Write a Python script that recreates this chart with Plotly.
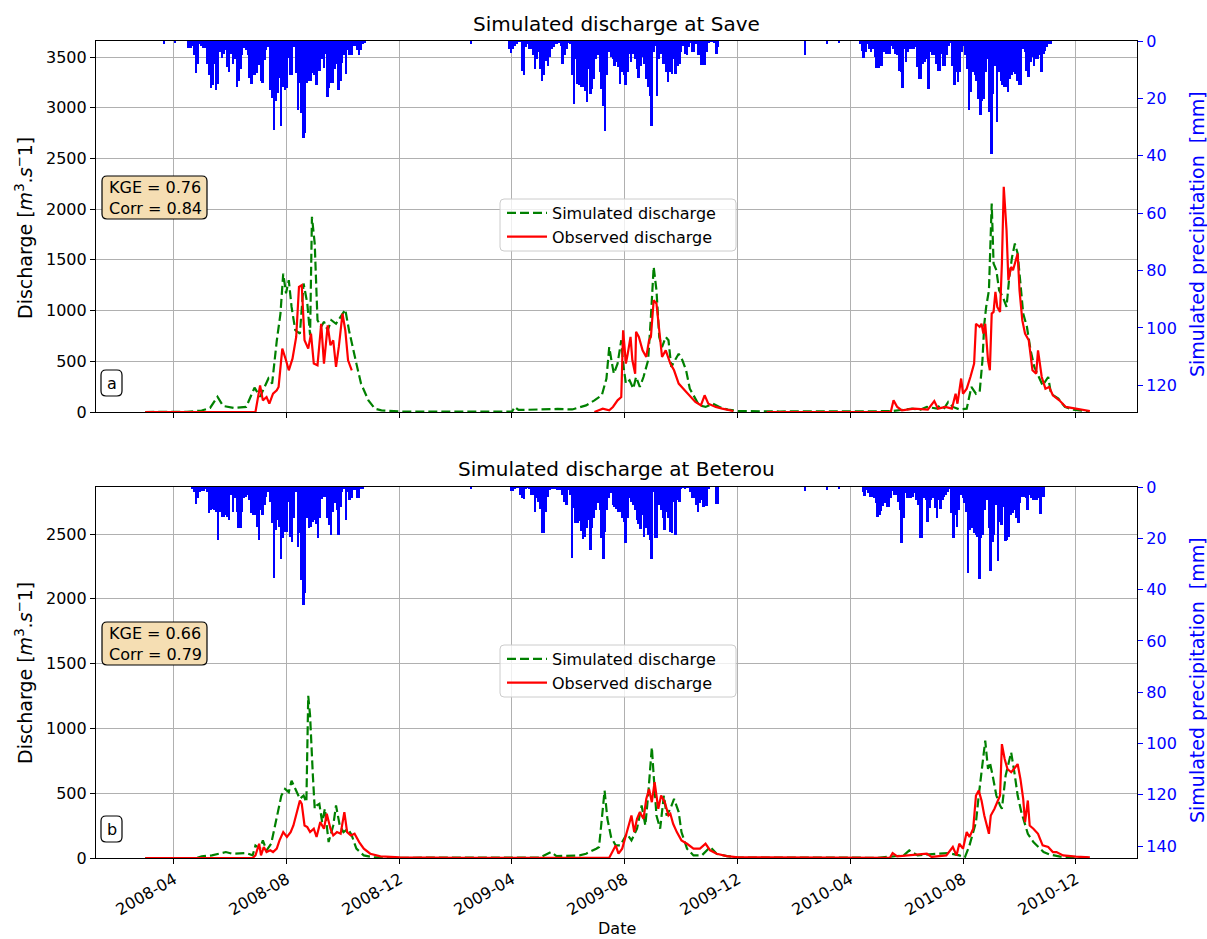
import pandas as pd
import plotly.graph_objects as go

# ---------------- data ----------------
x_tick_vals = ["2008-04-01", "2008-08-01", "2008-12-01", "2009-04-01", "2009-08-01",
               "2009-12-01", "2010-04-01", "2010-08-01", "2010-12-01"]
x_tick_text = ["2008-04", "2008-08", "2008-12", "2009-04", "2009-08",
               "2009-12", "2010-04", "2010-08", "2010-12"]

# Save - simulated discharge (m3/s)
save_sim_dates = ["2008-03-01", "2008-04-15", "2008-05-01", "2008-05-10", "2008-05-18", "2008-05-24", "2008-06-05",
                  "2008-06-18", "2008-06-27", "2008-07-03", "2008-07-12", "2008-07-16", "2008-07-21", "2008-07-25",
                  "2008-07-28", "2008-07-31", "2008-08-03", "2008-08-06", "2008-08-10", "2008-08-15", "2008-08-19",
                  "2008-08-23", "2008-08-26", "2008-08-28", "2008-08-31", "2008-09-03", "2008-09-07", "2008-09-10",
                  "2008-09-14", "2008-09-18", "2008-09-23", "2008-09-28", "2008-10-03", "2008-10-07", "2008-10-10",
                  "2008-10-15", "2008-10-20", "2008-10-28", "2008-11-04", "2008-11-11", "2008-12-01", "2009-02-01",
                  "2009-04-01", "2009-04-04", "2009-04-08", "2009-05-01", "2009-05-20", "2009-06-05", "2009-06-20",
                  "2009-06-29", "2009-07-07", "2009-07-12", "2009-07-15", "2009-07-18", "2009-07-20", "2009-07-24",
                  "2009-07-28", "2009-07-30", "2009-08-02", "2009-08-06", "2009-08-10", "2009-08-13", "2009-08-17",
                  "2009-08-21", "2009-08-26", "2009-08-29", "2009-09-01", "2009-09-04", "2009-09-07", "2009-09-10",
                  "2009-09-14", "2009-09-17", "2009-09-20", "2009-09-24", "2009-09-28", "2009-10-02", "2009-10-06",
                  "2009-10-10", "2009-10-15", "2009-10-20", "2009-10-27", "2009-11-04", "2009-11-11", "2009-11-20",
                  "2009-12-01", "2010-01-15", "2010-05-15", "2010-06-07", "2010-06-15", "2010-06-23", "2010-07-04",
                  "2010-07-07", "2010-07-12", "2010-07-16", "2010-07-21", "2010-07-28", "2010-08-05", "2010-08-10",
                  "2010-08-15", "2010-08-19", "2010-08-22", "2010-08-24", "2010-08-26", "2010-08-29", "2010-09-01",
                  "2010-09-03", "2010-09-06", "2010-09-09", "2010-09-13", "2010-09-17", "2010-09-20", "2010-09-23",
                  "2010-09-26", "2010-09-29", "2010-10-02", "2010-10-05", "2010-10-09", "2010-10-13", "2010-10-17",
                  "2010-10-20", "2010-10-26", "2010-11-01", "2010-11-04", "2010-11-12", "2010-11-19", "2010-11-28",
                  "2010-12-10", "2010-12-15"]
save_sim_vals = [0, 2, 15, 40, 150, 60, 40,
                 50, 240, 150, 330, 280, 700, 970,
                 1365, 1170, 1300, 1036, 806, 773, 1267,
                 1070, 757, 1925, 1660, 905, 840, 890,
                 806, 905, 870, 940, 1010, 806, 675,
                 477, 280, 115, 33, 16, 5, 3,
                 3, 50, 20, 25, 30, 25, 65,
                 115, 165, 330, 640, 477, 378, 477,
                 707, 477, 280, 313, 230, 345, 247,
                 345, 510, 938, 1431, 1200, 740, 640,
                 740, 707, 444, 510, 575, 510, 411,
                 230, 148, 66, 50, 82, 50, 23,
                 10, 5, 8, 33, 20, 50, 33,
                 66, 40, 99, 50, 26, 33, 247,
                 180, 197, 510, 870, 1036, 1200, 2056,
                 1464, 1398, 1200, 1135, 1036, 1332, 1530,
                 1661, 1563, 1267, 970, 840, 608, 444,
                 378, 263, 345, 180, 132, 50, 23,
                 7, 5]

# Save - observed discharge (m3/s), None = missing
save_obs_dates = ["2008-03-01", "2008-06-28", "2008-07-03", "2008-07-06", "2008-07-10", "2008-07-13", "2008-07-17",
                  "2008-07-21", "2008-07-23", "2008-07-27", "2008-07-31", "2008-08-03", "2008-08-07", "2008-08-11",
                  "2008-08-14", "2008-08-17", "2008-08-20", "2008-08-24", "2008-08-27", "2008-08-30", "2008-09-03",
                  "2008-09-07", "2008-09-10", "2008-09-14", "2008-09-17", "2008-09-20", "2008-09-23", "2008-09-26",
                  "2008-09-30", "2008-10-03", "2008-10-06", "2008-10-10", "2008-10-11",
                  "2009-06-29", "2009-07-08", "2009-07-15", "2009-07-19", "2009-07-24", "2009-07-28", "2009-07-30",
                  "2009-08-02", "2009-08-04", "2009-08-07", "2009-08-09", "2009-08-12", "2009-08-13", "2009-08-16",
                  "2009-08-20", "2009-08-24", "2009-08-27", "2009-08-29", "2009-09-01", "2009-09-04", "2009-09-07",
                  "2009-09-10", "2009-09-14", "2009-09-19", "2009-09-23", "2009-09-28", "2009-10-03", "2009-10-09",
                  "2009-10-16", "2009-10-22", "2009-10-26", "2009-10-30", "2009-11-07", "2009-11-14", "2009-11-21",
                  "2009-11-26", "2009-11-27",
                  "2010-01-01", "2010-05-15", "2010-05-18", "2010-05-22", "2010-05-27", "2010-06-09", "2010-06-24",
                  "2010-07-01", "2010-07-05", "2010-07-13", "2010-07-20", "2010-07-24", "2010-07-26", "2010-07-30",
                  "2010-08-01", "2010-08-05", "2010-08-09", "2010-08-13", "2010-08-15", "2010-08-19", "2010-08-21",
                  "2010-08-23", "2010-08-25", "2010-08-28", "2010-08-30", "2010-09-01", "2010-09-03", "2010-09-05",
                  "2010-09-07", "2010-09-10", "2010-09-12", "2010-09-14", "2010-09-17", "2010-09-19", "2010-09-22",
                  "2010-09-24", "2010-09-27", "2010-09-29", "2010-10-01", "2010-10-04", "2010-10-07", "2010-10-11",
                  "2010-10-15", "2010-10-19", "2010-10-21", "2010-10-25", "2010-10-29", "2010-11-02", "2010-11-06",
                  "2010-11-13", "2010-11-20", "2010-12-01", "2010-12-16"]
save_obs_vals = [0, 0, 263, 115, 148, 82, 180,
                 214, 247, 625, 510, 411, 526, 740,
                 1234, 1250, 707, 625, 773, 477, 460,
                 870, 477, 855, 658, 707, 444, 642,
                 970, 806, 510, 411, None,
                 0, 33, 16, 50, 115, 148, 806,
                 477, 575, 740, 510, 378, 790, 740,
                 608, 543, 707, 740, 1102, 1070, 806,
                 543, 608, 477, 411, 280, 230, 165,
                 99, 66, 165, 82, 50, 33, 16,
                 10, None,
                 0, 0, 115, 50, 16, 33, 23,
                 108, 33, 50, 33, 180, 82, 330,
                 180, 230, 345, 477, 870, 840, 870,
                 773, 870, 510, 411, 970, 987, 1184,
                 1036, 987, 1464, 2220, 1793, 1300, 1431,
                 1398, 1497, 1563, 1200, 905, 773, 707,
                 411, 378, 608, 345, 230, 247, 165,
                 115, 50, 33, 10]

# Beterou - simulated discharge (m3/s)
bet_sim_dates = ["2008-03-01", "2008-04-25", "2008-05-01", "2008-05-12", "2008-05-27", "2008-06-03", "2008-06-18",
                 "2008-06-25", "2008-06-28", "2008-07-03", "2008-07-06", "2008-07-10", "2008-07-15", "2008-07-19",
                 "2008-07-22", "2008-07-26", "2008-07-30", "2008-08-03", "2008-08-06", "2008-08-09", "2008-08-12",
                 "2008-08-15", "2008-08-19", "2008-08-22", "2008-08-24", "2008-08-26", "2008-08-29", "2008-08-31",
                 "2008-09-02", "2008-09-05", "2008-09-08", "2008-09-11", "2008-09-15", "2008-09-20", "2008-09-23",
                 "2008-09-27", "2008-10-01", "2008-10-06", "2008-10-10", "2008-10-15", "2008-10-23", "2008-11-02",
                 "2008-12-01", "2009-05-01", "2009-05-13", "2009-05-19", "2009-06-13", "2009-06-20", "2009-07-01",
                 "2009-07-04", "2009-07-10", "2009-07-13", "2009-07-17", "2009-07-22", "2009-07-27", "2009-08-03",
                 "2009-08-08", "2009-08-14", "2009-08-19", "2009-08-23", "2009-08-26", "2009-08-30", "2009-09-01",
                 "2009-09-04", "2009-09-08", "2009-09-12", "2009-09-15", "2009-09-19", "2009-09-23", "2009-09-28",
                 "2009-10-01", "2009-10-07", "2009-10-14", "2009-10-23", "2009-11-01", "2009-11-08", "2009-11-19",
                 "2009-12-01", "2010-05-01", "2010-05-29", "2010-06-04", "2010-06-13", "2010-07-03", "2010-07-16",
                 "2010-07-28", "2010-08-03", "2010-08-08", "2010-08-11", "2010-08-15", "2010-08-18", "2010-08-21",
                 "2010-08-25", "2010-08-28", "2010-08-30", "2010-09-02", "2010-09-06", "2010-09-10", "2010-09-12",
                 "2010-09-16", "2010-09-20", "2010-09-22", "2010-09-26", "2010-09-29", "2010-10-03", "2010-10-07",
                 "2010-10-10", "2010-10-16", "2010-10-21", "2010-10-27", "2010-11-03", "2010-11-14", "2010-12-01",
                 "2010-12-15"]
bet_sim_vals = [0, 0, 13, 20, 46, 33, 38,
                20, 97, 72, 136, 59, 110, 251,
                328, 482, 533, 508, 597, 546, 508,
                456, 482, 431, 1251, 1097, 636, 380,
                405, 418, 277, 380, 123, 251, 405,
                251, 200, 226, 174, 72, 20, 5,
                2, 3, 46, 15, 20, 33, 72,
                85, 520, 303, 162, 97, 97, 187,
                136, 226, 405, 251, 482, 854, 636,
                328, 226, 482, 328, 380, 456, 354,
                200, 72, 20, 20, 85, 33, 15,
                3, 2, 20, 59, 20, 33, 38,
                20, 5, 97, 174, 277, 482, 687,
                905, 687, 738, 636, 482, 405, 380,
                636, 764, 815, 636, 482, 354, 251,
                187, 123, 85, 46, 26, 10, 5,
                3]

# Beterou - observed discharge (m3/s)
bet_obs_dates = ["2008-03-01", "2008-06-25", "2008-06-28", "2008-07-02", "2008-07-04", "2008-07-07", "2008-07-10",
                 "2008-07-14", "2008-07-17", "2008-07-21", "2008-07-24", "2008-07-28", "2008-08-01", "2008-08-05",
                 "2008-08-08", "2008-08-12", "2008-08-15", "2008-08-17", "2008-08-20", "2008-08-23", "2008-08-26",
                 "2008-08-30", "2008-09-02", "2008-09-06", "2008-09-10", "2008-09-13", "2008-09-17", "2008-09-20",
                 "2008-09-24", "2008-09-28", "2008-10-02", "2008-10-05", "2008-10-09", "2008-10-13", "2008-10-18",
                 "2008-10-23", "2008-10-30", "2008-11-10", "2008-12-01", "2009-02-01", "2009-07-15", "2009-07-22",
                 "2009-07-25", "2009-07-29", "2009-08-03", "2009-08-05", "2009-08-08", "2009-08-11", "2009-08-14",
                 "2009-08-17", "2009-08-21", "2009-08-24", "2009-08-27", "2009-08-30", "2009-09-02", "2009-09-06",
                 "2009-09-09", "2009-09-13", "2009-09-17", "2009-09-19", "2009-09-22", "2009-09-26", "2009-10-01",
                 "2009-10-07", "2009-10-14", "2009-10-21", "2009-10-27", "2009-11-01", "2009-11-08", "2009-11-19",
                 "2009-12-01", "2010-02-01", "2010-05-14", "2010-05-17", "2010-05-22", "2010-06-23", "2010-06-28",
                 "2010-07-14", "2010-07-21", "2010-07-25", "2010-07-28", "2010-08-01", "2010-08-05", "2010-08-08",
                 "2010-08-12", "2010-08-15", "2010-08-18", "2010-08-21", "2010-08-24", "2010-08-29", "2010-08-31",
                 "2010-09-04", "2010-09-07", "2010-09-10", "2010-09-12", "2010-09-15", "2010-09-18", "2010-09-22",
                 "2010-09-25", "2010-09-29", "2010-10-02", "2010-10-05", "2010-10-07", "2010-10-10", "2010-10-12",
                 "2010-10-16", "2010-10-21", "2010-10-26", "2010-11-01", "2010-11-06", "2010-11-10", "2010-11-17",
                 "2010-12-01", "2010-12-16"]
bet_obs_vals = [0, 0, 20, 110, 20, 85, 46,
                59, 46, 72, 136, 200, 162, 200,
                251, 354, 444, 418, 251, 238, 200,
                226, 162, 277, 226, 341, 226, 174,
                200, 187, 354, 200, 174, 187, 123,
                72, 33, 13, 5, 2, 2, 97,
                33, 72, 187, 251, 328, 200, 303,
                354, 303, 456, 533, 431, 585, 380,
                482, 431, 328, 341, 264, 200, 136,
                110, 72, 72, 110, 59, 33, 15,
                5, 2, 2, 38, 13, 33, 8,
                20, 85, 20, 110, 72, 200, 162,
                226, 482, 520, 444, 328, 187, 328,
                380, 431, 482, 879, 764, 687, 662,
                687, 725, 610, 456, 277, 444, 251,
                226, 187, 97, 85, 46, 46, 20,
                10, 5]

# Simulated precipitation (mm), 2-day totals per season, listed from each season start
save_p08_start = "2008-04-16"
save_p08 = [2.5, 2.5, 1.6, 5, 11, 8, 1, 1.6, 2.5, 2.5, 8, 12, 16.5, 15.5, 8, 17, 15, 4, 6, 4.5, 3, 9, 10.7, 4.5,
            8, 6.3, 16, 14, 9.7, 5, 2.3, 3, 5, 13, 15, 12, 12, 11, 8.5, 14, 14.5, 6.5, 3, 2, 17, 20, 31, 21,
            18, 13, 29.7, 16, 17, 16.5, 6, 12, 12, 2, 11, 24, 14.5, 25, 33.9, 32, 14.5, 14, 14, 11, 11.8, 15.5,
            10.5, 10.5, 6.3, 9.5, 4.5, 19.6, 16.5, 14.5, 14.5, 9.7, 8, 17, 14, 7.5, 5, 11.5, 3, 5, 5, 1.6,
            1.6, 3, 5, 3, 1, 0.5]
save_p09_start = "2009-03-28"
save_p09 = [2.8, 4.2, 2.8, 1.6, 1, 0.3, 0.3, 10.3, 11.8, 2.2, 1, 2.8, 2.8, 5, 9.7, 6.3, 4, 9.7, 13.8, 12, 6.8,
            8.6, 5.7, 2.8, 2.2, 1, 1, 0.7, 1.6, 8, 5, 2.8, 0.7, 1, 12, 21.9, 6.3, 15, 15.3, 16.1, 16.1, 17.3,
            21.3, 9.7, 18.4, 16.7, 13.2, 6.3, 5, 10.9, 16.7, 22.5, 31.5, 12, 4, 5.7, 6.3, 8.6, 7.4, 9.2, 15,
            10.9, 12, 15.5, 10.9, 4.5, 7.2, 4.5, 6.3, 9.7, 12.9, 8.6, 5.7, 8, 13.2, 16.1, 19, 29.7, 4, 1.6,
            19.2, 6.3, 4.5, 8, 8, 10.9, 14.4, 10.9, 11.5, 6.3, 11.5, 8.6, 8, 4, 1.6, 4.5, 5, 2.2, 0.7, 4, 4,
            1, 4.9, 4.9, 8.3, 8.3, 8.3, 4, 0.7, 0.2, 0.2, 0.7, 4.5, 2.2]
save_p10_start = "2010-04-11"
save_p10 = [1, 3.4, 6, 4, 1, 2.8, 4, 2.8, 5.7, 9.5, 9.5, 8.8, 8.8, 4, 4.5, 4.5, 4.5, 1.9, 2.8, 4.5, 5, 10.3,
            10.9, 16.5, 2.8, 7.4, 4, 2.8, 2.8, 2.8, 2.2, 9.2, 13.2, 13.2, 8, 7.4, 6.3, 16.7, 4, 4.9, 4.9, 8,
            10.6, 10.6, 4.5, 8.8, 8.6, 5, 1.6, 0.7, 8.6, 15.5, 10.9, 14.4, 10.9, 4, 1.6, 5, 9.7, 24.2, 17.9,
            10.9, 12, 13.8, 20.2, 25.7, 20.8, 20.2, 10.9, 6.3, 24.8, 39.3, 18.4, 8.6, 28.3, 10.9, 13.8, 15.5,
            16.1, 16.1, 17.9, 13.2, 12, 10.9, 11.5, 13.8, 15.5, 15.5, 2.8, 4, 10.3, 12.6, 7.4, 5.7, 8.6, 6.3,
            6.3, 4.9, 10.7, 4.5, 3.4, 2.2, 1, 1]
save_p_extra_dates = ["2008-03-21", "2008-04-02", "2009-02-15", "2010-02-11", "2010-03-07", "2010-03-20"]
save_p_extra_vals = [1.0, 0.6, 1.0, 4.8, 1.2, 0.8]

bet_p08_start = "2008-04-20"
bet_p08 = [0.8, 1.8, 6.7, 4.4, 1.8, 1.6, 1.6, 0.8, 1.8, 10.2, 8.9, 8.6, 8.9, 9.6, 20.6, 9.6, 11.5, 11.5, 10.9,
           11.5, 12.8, 3.1, 9.6, 4.4, 9.6, 15.8, 15.8, 9.6, 4.4, 3.8, 3.1, 5.1, 10.2, 10.9, 10.9, 15.4, 20.6,
           8.9, 10.9, 7, 3.8, 1.8, 5.7, 14.1, 35.3, 16.7, 12.8, 15.4, 28, 20, 17.4, 17.4, 5.7, 19.3, 21.3, 12,
           1.8, 23.2, 18, 36.2, 45.9, 41.4, 12, 16, 15.4, 13.5, 12.8, 14.5, 19.7, 12, 4.7, 3.8, 3.8, 12.2,
           14.8, 18.9, 9.6, 6.4, 8.9, 18.9, 7.6, 1.8, 0.5, 12.8, 1.8, 5.1, 4.4, 1.2, 1.2, 4.1, 4.1, 0.8, 0.8]
bet_p09_start = "2009-03-30"
bet_p09 = [1.6, 1.6, 0.5, 0.3, 0.3, 3.1, 4.1, 4.7, 0.8, 0.3, 0.5, 3.1, 3.1, 9.9, 4.4, 5.7, 8.6, 18, 18, 9.6,
           3.8, 1.2, 0.8, 0.8, 0.8, 1.2, 1.2, 1.2, 3.1, 5.7, 7, 1.2, 3.1, 27.7, 8.3, 14.1, 14.1, 13.2, 17.1,
           20.2, 19.3, 16.1, 12.8, 24.5, 15.8, 12.2, 8.9, 6.4, 8.9, 20, 28, 17.4, 8.9, 4.4, 2.5, 7, 7.6, 8.6,
           9.6, 9.6, 12.2, 13.5, 21.9, 12.2, 4.4, 5.7, 7, 8.9, 12.8, 14.5, 16.3, 10.9, 19.3, 16.1, 18.7, 20.6,
           28, 1.8, 19.7, 19.7, 7, 8.9, 12.2, 16.7, 9.6, 12.2, 17.4, 18, 5.7, 18.7, 5.1, 5.7, 0.5, 0.3, 0.8,
           0.3, 0.3, 1.8, 4.4, 4.4, 7, 9.6, 6.4, 5.1, 7.6, 7.3, 7.3, 0.5, 0, 0, 0, 6.7, 6.7]
bet_p10_start = "2010-04-14"
bet_p10 = [2.1, 3.4, 1.2, 2.5, 3.8, 3.8, 4.4, 6.4, 11.5, 11.1, 9.3, 7.3, 6.4, 7.6, 7.6, 4.4, 1.6, 3.1, 3.1, 5.7,
           8.9, 21.9, 12, 2.5, 4.1, 4.1, 4.1, 3.8, 2.5, 5.1, 7, 19.7, 20, 4.4, 5.1, 13.7, 8.3, 5.1, 4.1, 8,
           12.2, 5.1, 8.6, 5.1, 3.8, 3.1, 1.8, 0.5, 10, 20, 10.9, 15.4, 8.9, 3.1, 4.4, 6.4, 9.6, 33.6, 16.7,
           16.1, 18, 18.7, 19.3, 35.9, 20, 18.7, 8.9, 5.1, 16.1, 32.9, 21.3, 18.7, 7, 28.8, 13.5, 14.8, 7.6,
           21, 20.6, 19.3, 10.9, 10.2, 8.9, 12.2, 14.1, 6.4, 3.8, 3.8, 4.4, 8.9, 3.1, 4.4, 5.1, 5.1, 5.1, 4.4,
           10.6, 3.8, 3.8]
bet_p_extra_dates = ["2009-02-15", "2010-02-11", "2010-03-07", "2010-03-20"]
bet_p_extra_vals = [0.8, 1.5, 1.0, 0.8]

stats_save = "KGE = 0.76<br>Corr = 0.84"
stats_bet = "KGE = 0.66<br>Corr = 0.79"

# ---------------- layout geometry ----------------
FIG_W, FIG_H = 1207, 939
ML, MR, MT, MB = 96, 70, 41, 81
PW = FIG_W - ML - MR
PH = FIG_H - MT - MB


def px(x):
    return (x - ML) / PW


def py(y):
    return (FIG_H - MB - y) / PH


DAY_MS = 86400000
FONT = "DejaVu Sans"
GRID = "#b0b0b0"


def season_bars(start, vals):
    centers = pd.date_range(start, periods=len(vals), freq="2D") + pd.Timedelta(days=1)
    return list(centers), vals


fig = go.Figure()


def add_panel(xa, ya, ya2, sim_d, sim_v, obs_d, obs_v, seasons, ex_d, ex_v, legend):
    fig.add_trace(go.Scatter(x=sim_d, y=sim_v, mode="lines", name="Simulated discharge",
                             line=dict(color="green", width=2.2, dash="9px,4px"),
                             xaxis=xa, yaxis=ya, legend=legend))
    fig.add_trace(go.Scatter(x=obs_d, y=obs_v, mode="lines", name="Observed discharge",
                             line=dict(color="red", width=2.2), connectgaps=False,
                             xaxis=xa, yaxis=ya, legend=legend))
    for start, vals in seasons:
        xs, ys = season_bars(start, vals)
        fig.add_trace(go.Bar(x=xs, y=ys, width=2 * DAY_MS, marker=dict(color="blue", line=dict(width=0)),
                             xaxis=xa, yaxis=ya2, showlegend=False))
    exs = [pd.Timestamp(d) + pd.Timedelta(hours=12) for d in ex_d]
    fig.add_trace(go.Bar(x=exs, y=ex_v, width=DAY_MS * 1.2, marker=dict(color="blue", line=dict(width=0)),
                         xaxis=xa, yaxis=ya2, showlegend=False))


add_panel("x", "y", "y2", save_sim_dates, save_sim_vals, save_obs_dates, save_obs_vals,
          [(save_p08_start, save_p08), (save_p09_start, save_p09), (save_p10_start, save_p10)],
          save_p_extra_dates, save_p_extra_vals, "legend")
add_panel("x2", "y3", "y4", bet_sim_dates, bet_sim_vals, bet_obs_dates, bet_obs_vals,
          [(bet_p08_start, bet_p08), (bet_p09_start, bet_p09), (bet_p10_start, bet_p10)],
          bet_p_extra_dates, bet_p_extra_vals, "legend2")

x_range = ["2008-01-07 20:00", "2011-02-04 21:00"]
top_dom = [py(412), 1.0]
bot_dom = [0.0, py(487)]

tickfont = dict(family=FONT, size=16, color="black")
bluefont = dict(family=FONT, size=16, color="blue")

xcommon = dict(range=x_range, tickvals=x_tick_vals, ticktext=x_tick_text, ticks="outside", ticklen=5,
               tickcolor="black", showgrid=True, gridcolor=GRID, gridwidth=1, showline=True,
               linecolor="black", linewidth=1.2, mirror=True, tickfont=tickfont, zeroline=False)
ycommon = dict(ticks="outside", ticklen=5, tickcolor="black", showgrid=True, gridcolor=GRID, gridwidth=1,
               showline=True, linecolor="black", linewidth=1.2, zeroline=False, tickfont=tickfont)
yright = dict(side="right", ticks="outside", ticklen=5, tickcolor="blue", showgrid=False,
              showline=True, linecolor="black", linewidth=1.2, zeroline=False, tickfont=bluefont)

legend_common = dict(xanchor="left", yanchor="top", bgcolor="rgba(0,0,0,0)", borderwidth=0,
                     font=dict(family=FONT, size=16), tracegroupgap=0, itemwidth=40)

fig.update_layout(
    width=FIG_W, height=FIG_H,
    margin=dict(l=ML, r=MR, t=MT, b=MB),
    paper_bgcolor="white", plot_bgcolor="white",
    barmode="overlay", bargap=0,
    font=dict(family=FONT, size=16, color="black"),
    xaxis=dict(domain=[0, 1], anchor="y", showticklabels=False, **xcommon),
    xaxis2=dict(domain=[0, 1], anchor="y3", tickangle=-30, matches="x", **xcommon),
    yaxis=dict(domain=top_dom, anchor="x", range=[0, 3658],
               tickvals=[0, 500, 1000, 1500, 2000, 2500, 3000, 3500], **ycommon),
    yaxis2=dict(overlaying="y", anchor="x", range=[129.3, 0],
                tickvals=[0, 20, 40, 60, 80, 100, 120], **yright),
    yaxis3=dict(domain=bot_dom, anchor="x2", range=[0, 2863],
                tickvals=[0, 500, 1000, 1500, 2000, 2500], **ycommon),
    yaxis4=dict(overlaying="y3", anchor="x2", range=[144.6, 0],
                tickvals=[0, 20, 40, 60, 80, 100, 120, 140], **yright),
    legend=dict(x=px(502), y=py(196), **legend_common),
    legend2=dict(x=px(502), y=py(642), **legend_common),
)


def rrect(x0, y0, x1, y1, r, fill, line_color, lw=1.2, opacity=1.0):
    rx = r / PW
    ry = r / PH
    X0, X1, Y0, Y1 = px(x0), px(x1), py(y0), py(y1)
    path = (f"M {X0 + rx},{Y0} L {X1 - rx},{Y0} Q {X1},{Y0} {X1},{Y0 - ry} "
            f"L {X1},{Y1 + ry} Q {X1},{Y1} {X1 - rx},{Y1} L {X0 + rx},{Y1} Q {X0},{Y1} {X0},{Y1 + ry} "
            f"L {X0},{Y0 - ry} Q {X0},{Y0} {X0 + rx},{Y0} Z")
    return dict(type="path", path=path, xref="paper", yref="paper", fillcolor=fill,
                line=dict(color=line_color, width=lw), layer="above", opacity=opacity)


shapes = [
    rrect(500, 199, 736, 251, 4, "rgba(255,255,255,0.8)", "#cccccc", 1),
    rrect(500, 645, 736, 697, 4, "rgba(255,255,255,0.8)", "#cccccc", 1),
    rrect(102, 176, 207, 219, 5, "#f5deb3", "black"),
    rrect(102, 622, 207, 665, 5, "#f5deb3", "black"),
    rrect(101, 370, 122, 396, 5, "white", "black"),
    rrect(101, 816, 122, 842, 5, "white", "black"),
]
fig.update_layout(shapes=shapes)

ann = []
ann.append(dict(text="Simulated discharge at Save", x=px(616.5), y=py(24), xref="paper", yref="paper",
                showarrow=False, xanchor="center", yanchor="middle", font=dict(family=FONT, size=20)))
ann.append(dict(text="Simulated discharge at Beterou", x=px(616.5), y=py(469), xref="paper", yref="paper",
                showarrow=False, xanchor="center", yanchor="middle", font=dict(family=FONT, size=20)))
ylab = "Discharge [<i>m</i><sup>3</sup>.<i>s</i><sup>\u2212</sup>1]"
for yc_l, yc_r in ((228, 234), (673, 680)):
    ann.append(dict(text=ylab, x=px(24), y=py(yc_l), xref="paper", yref="paper", showarrow=False,
                    textangle=-90, xanchor="center", yanchor="middle", font=dict(family=FONT, size=19)))
    ann.append(dict(text="Simulated precipitation  [mm]", x=px(1197), y=py(yc_r), xref="paper", yref="paper",
                    showarrow=False, textangle=-90, xanchor="center", yanchor="middle",
                    font=dict(family=FONT, size=19, color="blue")))
ann.append(dict(text="Date", x=px(617), y=py(928), xref="paper", yref="paper", showarrow=False,
                xanchor="center", yanchor="middle", font=dict(family=FONT, size=16)))
for txt, yc in ((stats_save, 197.5), (stats_bet, 643.5)):
    ann.append(dict(text=txt, x=px(107), y=py(yc), xref="paper", yref="paper", showarrow=False,
                    xanchor="left", yanchor="middle", align="left", font=dict(family=FONT, size=16)))
for txt, yc in (("a", 383), ("b", 829)):
    ann.append(dict(text=txt, x=px(111.5), y=py(yc), xref="paper", yref="paper", showarrow=False,
                    xanchor="center", yanchor="middle", font=dict(family=FONT, size=16)))
fig.update_layout(annotations=ann)

fig.write_html("out.html")
